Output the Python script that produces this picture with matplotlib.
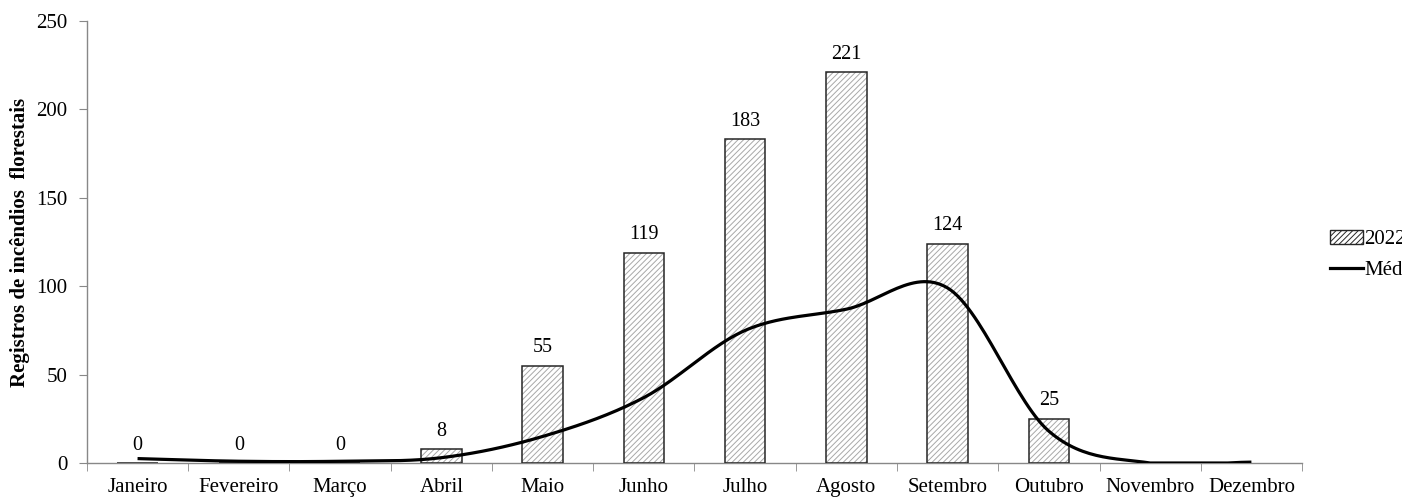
import numpy as np
import matplotlib
matplotlib.use("Agg")
import matplotlib.pyplot as plt

months = ["Janeiro", "Fevereiro", "Março", "Abril", "Maio", "Junho", "Julho",
          "Agosto", "Setembro", "Outubro", "Novembro", "Dezembro"]
registros_2022 = [0, 0, 0, 8, 55, 119, 183, 221, 124, 25, None, None]
media = [2.5, 1, 1, 3, 15, 37, 75, 87, 99, 18, 0, 0.5]

plt.rcParams['font.family'] = ['Liberation Serif', 'DejaVu Serif']
plt.rcParams['hatch.linewidth'] = 0.7

fig = plt.figure(figsize=(14.02, 4.97), dpi=100)
ax = fig.add_axes([0.062, 0.0684, 0.8667, 0.8893])

x = np.arange(len(months))
bx = [xi for xi, v in zip(x, registros_2022) if v is not None]
bv = [v for v in registros_2022 if v is not None]
w = 0.4
ax.bar(bx, bv, width=w, color='white', edgecolor='#a8a8a8',
       hatch='//////', linewidth=0, zorder=2)
ax.bar(bx, bv, width=w, color='none', edgecolor='#262626',
       linewidth=1.1, zorder=3)

for xi, v in zip(bx, bv):
    ax.annotate(str(v), (xi, v), xytext=(0, 6), textcoords='offset points',
                ha='center', va='bottom', fontsize=14.5)

# Catmull-Rom smoothing for display of the average line
def catmull(xs, ys, n=30):
    xs = np.asarray(xs, float); ys = np.asarray(ys, float)
    px = np.concatenate([[2*xs[0]-xs[1]], xs, [2*xs[-1]-xs[-2]]])
    py = np.concatenate([[2*ys[0]-ys[1]], ys, [2*ys[-1]-ys[-2]]])
    ox, oy = [], []
    for i in range(1, len(px)-2):
        t = np.linspace(0, 1, n, endpoint=False)
        for arr, out in ((px, ox), (py, oy)):
            p0, p1, p2, p3 = arr[i-1], arr[i], arr[i+1], arr[i+2]
            out.extend(0.5*((2*p1) + (-p0+p2)*t + (2*p0-5*p1+4*p2-p3)*t**2
                            + (-p0+3*p1-3*p2+p3)*t**3))
    ox.append(xs[-1]); oy.append(ys[-1])
    return np.array(ox), np.array(oy)

sx, sy = catmull(x, media)
sy = np.clip(sy, 0, None)
ax.plot(sx, sy, color='black', linewidth=2.3, zorder=4, solid_capstyle='butt')

ax.set_xlim(-0.5, 11.5)
ax.set_ylim(0, 250)
ax.set_yticks([0, 50, 100, 150, 200, 250])
ax.set_xticks(x)
ax.set_xticklabels(months, fontsize=15)
ax.set_xticks(np.arange(-0.5, 12, 1), minor=True)
ax.tick_params(axis='x', which='major', length=0, pad=11)
ax.tick_params(axis='x', which='minor', length=6, color='#888888', direction='out')
ax.tick_params(axis='y', length=6, color='#888888', labelsize=15, pad=8)

for s in ['top', 'right']:
    ax.spines[s].set_visible(False)
for s in ['left', 'bottom']:
    ax.spines[s].set_color('#888888')
    ax.spines[s].set_linewidth(1.0)

ax.set_ylabel('Registros de incêndios  florestais', fontsize=15, fontweight='bold')
ax.yaxis.set_label_coords(-0.047, 0.5)

from matplotlib.patches import Rectangle
from matplotlib.lines import Line2D
h_bar = Rectangle((0, 0), 1, 1, facecolor='white', edgecolor='#262626',
                  hatch='//////', linewidth=1.0)
h_line = Line2D([0], [0], color='black', linewidth=2.3)
fig.legend([h_bar, h_line], ['2022', 'Média'],
           loc='center left', bbox_to_anchor=(0.935, 0.487), frameon=False,
           fontsize=15, handlelength=1.6, handleheight=0.6,
           handletextpad=0.05, labelspacing=0.55)

fig.savefig('out.png', dpi=100)
